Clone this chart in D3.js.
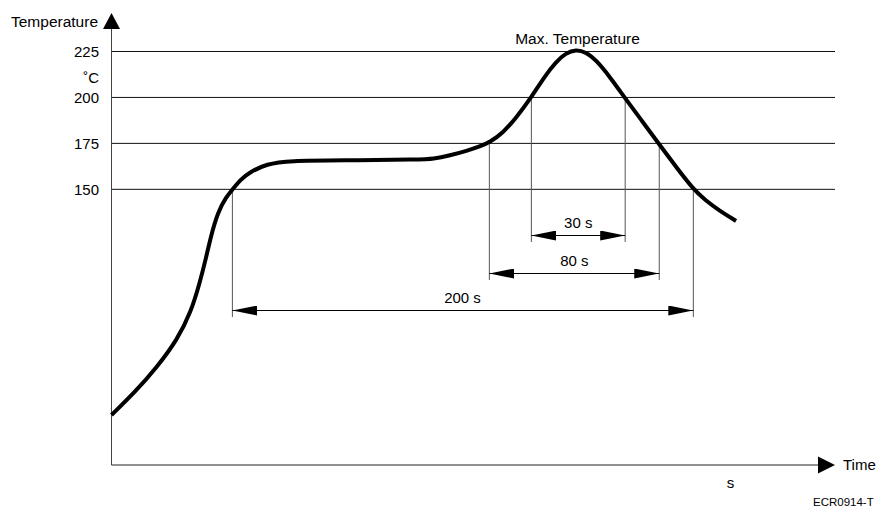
<!DOCTYPE html>
<html>
<head>
<meta charset="utf-8">
<title>Reflow profile</title>
<script src="https://cdn.jsdelivr.net/npm/d3@7"></script>
<style>
  html, body { margin: 0; padding: 0; background: #fff; }
  svg text { font-family: "Liberation Sans", Arial, sans-serif; fill: #000; }
</style>
</head>
<body>
<div id="chart"></div>
<script>

/*
 * Chart data.
 */

// Temperature profile: time (schematic units) and temperature (deg C).
var profileTime = [0, 10.1, 19.5, 28.1, 34.1, 37.9, 40.5, 42.6, 45.6, 49.1, 52.1, 55.1,
  59.3, 66.6, 75.2, 102.2, 132.2, 137.8, 145.0, 152.3, 157.9, 162.2, 167.7, 173.3,
  179.7, 185.7, 190.4, 194.7, 199.0, 203.3, 207.6, 213.6, 220.0, 227.3, 234.6,
  241.9, 249.2, 254.3, 260.7, 267.6];
var profileTemp = [27.2, 39.7, 53.3, 68.0, 83.3, 99.6, 112.6, 124.6, 137.7, 145.8, 150.2, 155.1,
  159.4, 163.8, 165.6, 165.8, 166.2, 166.5, 168.4, 171.0, 173.3, 175.8, 180.7, 188.8,
  199.7, 211.7, 219.3, 224.2, 226.1, 224.7, 220.4, 211.1, 199.7, 187.2, 174.7,
  162.2, 150.2, 144.2, 138.2, 132.8];

// Reference temperatures (grid lines and tick labels).
var gridTemps = [150, 175, 200, 225];
var tickLabels = ['150', '175', '200', '225'];

// Dwell spans: label, threshold temperature, start and end time.
var spanLabels = ['30 s', '80 s', '200 s'];
var spanTemps = [200, 175, 150];
var spanStart = [179.9, 161.9, 51.8];
var spanEnd = [220.1, 234.7, 249.3];

/*
 * Layout.
 */

var width = 883;
var height = 513;

// Rows of the dimension arrows (pixels) and how far the extension lines pass them.
var spanRows = [235.5, 273.5, 310.5];
var spanOvershoot = [6.5, 6.5, 6.5];

var x = d3.scaleLinear().domain([0, 310]).range([111.5, 835]);
var y = d3.scaleLinear().domain([0, 225]).range([465, 51.5]);

var svg = d3.select('#chart').append('svg')
  .attr('width', width)
  .attr('height', height);

// Arrow head markers.
var defs = svg.append('defs');

defs.append('marker')
  .attr('id', 'head')
  .attr('viewBox', '0 0 25 10')
  .attr('refX', 25)
  .attr('refY', 5)
  .attr('markerWidth', 25)
  .attr('markerHeight', 10)
  .attr('markerUnits', 'userSpaceOnUse')
  .attr('orient', 'auto-start-reverse')
  .append('path')
  .attr('d', 'M0,0L25,5L0,10Z')
  .attr('fill', '#000');

/*
 * Grid lines and tick labels.
 */

svg.append('g')
  .selectAll('line')
  .data(gridTemps)
  .join('line')
  .attr('x1', x(0))
  .attr('x2', x(310))
  .attr('y1', function(d) { return y(d); })
  .attr('y2', function(d) { return y(d); })
  .attr('stroke', '#111')
  .attr('stroke-width', 1);

svg.append('g')
  .selectAll('text')
  .data(gridTemps)
  .join('text')
  .attr('x', 99)
  .attr('y', function(d) { return y(d); })
  .attr('dy', '0.36em')
  .attr('text-anchor', 'end')
  .style('font-size', '15px')
  .text(function(d, i) { return tickLabels[i]; });

// Unit label.
svg.append('text')
  .attr('x', 99)
  .attr('y', 83)
  .attr('text-anchor', 'end')
  .style('font-size', '15px')
  .text('˚C');

/*
 * Axes with arrow tips.
 */

svg.append('line')
  .attr('x1', x(0)).attr('x2', x(0))
  .attr('y1', y(0)).attr('y2', 29)
  .attr('stroke', '#444');

svg.append('path')
  .attr('d', 'M' + (x(0) - 8.5) + ',29L' + x(0) + ',13L' + (x(0) + 8.5) + ',29Z')
  .attr('fill', '#000');

svg.append('line')
  .attr('x1', x(0)).attr('x2', 818)
  .attr('y1', y(0)).attr('y2', y(0))
  .attr('stroke', '#222');

svg.append('path')
  .attr('d', 'M818,' + (y(0) - 8.5) + 'L835,' + y(0) + 'L818,' + (y(0) + 8.5) + 'Z')
  .attr('fill', '#000');

svg.append('text')
  .attr('x', 98)
  .attr('y', 27)
  .attr('text-anchor', 'end')
  .style('font-size', '15.5px')
  .text('Temperature');

svg.append('text')
  .attr('x', 843)
  .attr('y', 470)
  .style('font-size', '15px')
  .text('Time');

svg.append('text')
  .attr('x', 730.5)
  .attr('y', 488)
  .attr('text-anchor', 'middle')
  .style('font-size', '15px')
  .text('s');

svg.append('text')
  .attr('x', 813)
  .attr('y', 506)
  .style('font-size', '11.5px')
  .text('ECR0914-T');

/*
 * Dwell time dimensions.
 */

var spans = svg.append('g');

spanLabels.forEach(function(label, i) {

  var x1 = x(spanStart[i]);
  var x2 = x(spanEnd[i]);
  var row = spanRows[i];

  // Extension lines down from the threshold crossings.
  [x1, x2].forEach(function(px) {
    spans.append('line')
      .attr('x1', px).attr('x2', px)
      .attr('y1', y(spanTemps[i]))
      .attr('y2', row + spanOvershoot[i])
      .attr('stroke', '#555');
  });

  // Double arrow.
  spans.append('line')
    .attr('x1', x1).attr('x2', x2)
    .attr('y1', row).attr('y2', row)
    .attr('stroke', '#000')
    .attr('marker-start', 'url(#head)')
    .attr('marker-end', 'url(#head)');

  // Label.
  spans.append('text')
    .attr('x', i === 2 ? 462.5 : (x1 + x2) / 2)
    .attr('y', row - 8)
    .attr('text-anchor', 'middle')
    .style('font-size', '15px')
    .text(label);

});

/*
 * Temperature curve.
 */

var line = d3.line()
  .x(function(d, i) { return x(profileTime[i]); })
  .y(function(d, i) { return y(profileTemp[i]); })
  .curve(d3.curveBasis);

svg.append('path')
  .attr('d', line(profileTime))
  .attr('fill', 'none')
  .attr('stroke', '#000')
  .attr('stroke-width', 4);

svg.append('text')
  .attr('x', 577.5)
  .attr('y', 44)
  .attr('text-anchor', 'middle')
  .style('font-size', '15.5px')
  .text('Max. Temperature');

</script>
</body>
</html>
